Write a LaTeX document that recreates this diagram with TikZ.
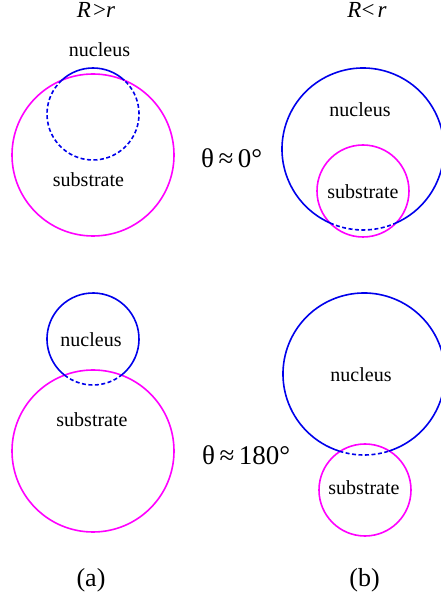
\documentclass[tikz,border=0pt]{standalone}
\usepackage{fontspec}
\setmainfont{Liberation Serif}
\usetikzlibrary{calc}
\definecolor{nucblue}{RGB}{0,0,235}
\definecolor{submag}{RGB}{255,0,255}
\tikzset{
  subcirc/.style={draw=submag, line width=1.6pt},
  nucsolid/.style={draw=nucblue, line width=1.6pt},
  nucdash/.style={draw=nucblue, line width=1.6pt, dash pattern=on 4pt off 2.5pt},
  lbl/.style={inner sep=0pt, anchor=base, font=\fontsize{20}{22}\selectfont},
  headlbl/.style={inner sep=0pt, anchor=base, font=\fontsize{23}{25}\selectfont},
  anglbl/.style={inner sep=0pt, anchor=base west, font=\fontsize{27}{29}\selectfont},
  panellbl/.style={inner sep=0pt, anchor=base, font=\fontsize{26}{28}\selectfont}
}
\begin{document}
\begin{tikzpicture}[x=1pt,y=1pt]
\useasboundingbox (0,0) rectangle (441,598);
% centres
\coordinate (M1) at (93,443);  \coordinate (B1) at (93,484);
\coordinate (B2) at (363,449); \coordinate (M2) at (363,407);
\coordinate (B3) at (93,259);  \coordinate (M3) at (93,147);
\coordinate (B4) at (364,224); \coordinate (M4) at (365,108);
% top left
\draw[subcirc] (M1) circle (81);
\draw[nucsolid] ($(B1)+(47.1:46)$) arc[start angle=47.1, end angle=132.9, radius=46];
\draw[nucdash] ($(B1)+(132.9:46)$) arc[start angle=132.9, end angle=407.1, radius=46];
% top right
\draw[subcirc] (M2) circle (46);
\draw[nucsolid] ($(B2)+(-65.9:81)$) arc[start angle=-65.9, end angle=245.9, radius=81];
\draw[nucdash] ($(B2)+(-114.1:81)$) arc[start angle=-114.1, end angle=-65.9, radius=81];
% bottom left
\draw[subcirc] (M3) circle (81);
\draw[nucsolid] ($(B3)+(-51.8:46)$) arc[start angle=-51.8, end angle=231.8, radius=46];
\draw[nucdash] ($(B3)+(-128.2:46)$) arc[start angle=-128.2, end angle=-51.8, radius=46];
% bottom right
\draw[subcirc] (M4) circle (46);
\draw[nucsolid] ($(B4)+(-72.3:81)$) arc[start angle=-72.3, end angle=252.3, radius=81];
\draw[nucdash] ($(B4)+(-107.7:81)$) arc[start angle=-107.7, end angle=-72.3, radius=81];
% labels
\node[headlbl] (h1) at (96,580) {\textit{R}\hspace{2pt}>\textit{r}};
\node[headlbl] (h2) at (367,580) {\textit{R}<\hspace{3pt}\textit{r}};
\node[lbl] (n1) at (99.5,541) {nucleus};
\node[lbl] (s1) at (88.5,411) {substrate};
\node[lbl] (n2) at (360,481) {nucleus};
\node[lbl] (s2) at (363,399) {substrate};
\node[lbl] (n3) at (91,251) {nucleus};
\node[lbl] (s3) at (92,171) {substrate};
\node[lbl] (n4) at (361,216) {nucleus};
\node[lbl] (s4) at (364,103) {substrate};
\node[anglbl] (t1) at (201,430) {θ\,≈\,0°};
\node[anglbl] (t2) at (202,133) {θ\,≈\,180°};
\node[panellbl] (ca) at (91,11) {(a)};
\node[panellbl] (cb) at (364.5,11) {(b)};
\end{tikzpicture}
\end{document}
